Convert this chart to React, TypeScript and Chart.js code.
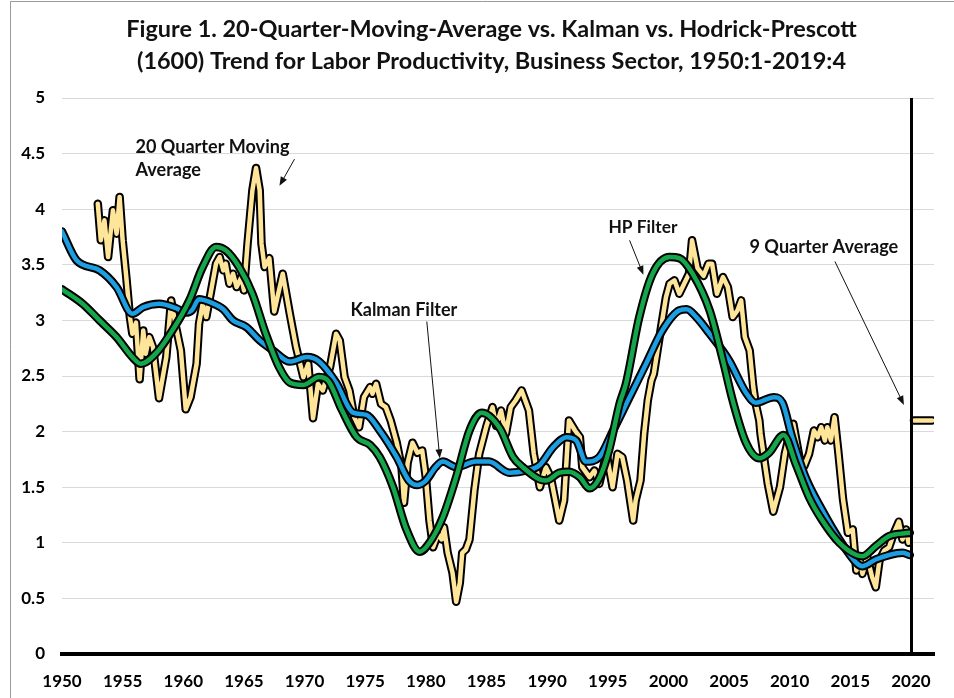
import React, { useEffect, useRef } from 'react';
import { Chart, registerables } from 'chart.js';

Chart.register(...registerables);

// ---------- Text ----------
const titleLines = [
  'Figure 1. 20-Quarter-Moving-Average vs. Kalman vs. Hodrick-Prescott',
  '(1600) Trend for Labor Productivity, Business Sector, 1950:1-2019:4',
];
const maLabel = ['20 Quarter Moving', 'Average'];
const kalmanLabel = ['Kalman Filter'];
const hpLabel = ['HP Filter'];
const nineQLabel = ['9 Quarter Average'];

// ---------- Axes ----------
const xTickYears = [1950, 1955, 1960, 1965, 1970, 1975, 1980, 1985, 1990, 1995, 2000, 2005, 2010, 2015, 2020];
const yTickValues = [0, 0.5, 1, 1.5, 2, 2.5, 3, 3.5, 4, 4.5, 5];
const breakYear = 2020;

// ---------- 20 Quarter Moving Average ----------
const maYears = [
  1952.95, 1953.2, 1953.5, 1953.8, 1954.2, 1954.5, 1954.75, 1955.0, 1955.3, 1955.6, 1955.8, 1956.1, 1956.4, 1956.7,
  1956.9, 1957.2, 1957.5, 1958.0, 1958.6, 1959.0, 1959.4, 1959.8, 1960.2, 1960.6, 1961.1, 1961.3, 1961.6, 1961.9,
  1962.3, 1962.7, 1963.0, 1963.3, 1963.5, 1963.8, 1964.1, 1964.4, 1964.8, 1965.0, 1965.3, 1965.7, 1966.0, 1966.3,
  1966.45, 1966.7, 1967.1, 1967.5, 1968.2, 1968.8, 1969.3, 1969.9, 1970.3, 1970.7, 1971.1, 1971.5, 1972.1, 1972.6,
  1972.9, 1973.3, 1973.7, 1974.1, 1974.5, 1974.9, 1975.4, 1975.6, 1975.9, 1976.3, 1976.7, 1977.1, 1977.6, 1978.0,
  1978.2, 1978.5, 1978.9, 1979.3, 1979.7, 1980.0, 1980.3, 1980.6, 1981.0, 1981.3, 1981.5, 1981.8, 1982.2, 1982.5,
  1982.8, 1983.0, 1983.3, 1983.6, 1984.0, 1984.4, 1985.0, 1985.5, 1985.8, 1986.2, 1986.6, 1987.0, 1987.4, 1987.9,
  1988.3, 1988.5, 1988.9, 1989.4, 1989.9, 1990.3, 1991.0, 1991.4, 1991.8, 1992.3, 1992.7, 1992.9, 1993.5, 1993.9,
  1994.3, 1994.9, 1995.4, 1995.8, 1996.2, 1996.6, 1997.1, 1997.3, 1997.7, 1998.0, 1998.3, 1998.6, 1998.8, 1999.1,
  1999.4, 1999.8, 2000.1, 2000.5, 2000.9, 2001.3, 2001.7, 2001.95, 2002.4, 2002.9, 2003.3, 2003.6, 2004.0, 2004.5,
  2004.9, 2005.3, 2005.7, 2006.0, 2006.3, 2006.7, 2007.0, 2007.2, 2007.5, 2007.6, 2008.2, 2008.65, 2009.2, 2009.6,
  2010.0, 2010.3, 2010.8, 2011.2, 2011.6, 2012.0, 2012.3, 2012.6, 2012.9, 2013.1, 2013.4, 2013.7, 2014.0, 2014.4,
  2014.8, 2015.2, 2015.5, 2015.8, 2016.0, 2016.4, 2016.8, 2017.1, 2017.4, 2017.8, 2018.2, 2018.6, 2019.0, 2019.3,
  2019.6, 2019.8,
];
const maValues = [
  4.05, 3.72, 3.9, 3.57, 3.99, 3.78, 4.11, 3.72, 3.39, 3.03, 2.88, 2.98, 2.47, 2.91,
  2.7, 2.85, 2.76, 2.3, 2.67, 3.18, 2.94, 2.73, 2.2, 2.31, 2.61, 2.97, 3.15, 3.03,
  3.27, 3.51, 3.57, 3.45, 3.51, 3.33, 3.42, 3.3, 3.39, 3.27, 3.69, 4.17, 4.37, 4.17,
  3.69, 3.48, 3.56, 3.08, 3.42, 3.05, 2.76, 2.49, 2.61, 2.12, 2.43, 2.37, 2.58, 2.88,
  2.82, 2.49, 2.37, 2.13, 2.04, 2.31, 2.4, 2.34, 2.43, 2.25, 2.22, 2.1, 1.9, 1.68,
  1.36, 1.72, 1.9, 1.81, 1.83, 1.59, 1.2, 0.96, 1.08, 1.03, 1.14, 0.91, 0.73, 0.47,
  0.64, 0.91, 0.94, 1.03, 1.47, 1.8, 2.05, 2.22, 2.05, 2.19, 1.98, 2.22, 2.28, 2.37,
  2.25, 2.19, 1.8, 1.5, 1.68, 1.59, 1.2, 1.38, 2.1, 2.01, 1.95, 1.68, 1.59, 1.65,
  1.53, 1.8, 1.5, 1.8, 1.77, 1.56, 1.2, 1.38, 1.56, 1.98, 2.28, 2.46, 2.52, 2.73,
  2.94, 3.21, 3.33, 3.36, 3.24, 3.33, 3.42, 3.72, 3.47, 3.4, 3.51, 3.51, 3.24, 3.39,
  3.3, 3.03, 3.09, 3.18, 2.85, 2.73, 2.4, 2.25, 2.1, 1.98, 1.53, 1.28, 1.5, 1.8,
  1.98, 2.07, 1.77, 1.69, 1.8, 2.01, 1.95, 2.04, 1.92, 2.04, 1.92, 2.13, 1.83, 1.39,
  1.09, 1.12, 0.75, 0.84, 0.72, 0.87, 0.69, 0.6, 0.84, 0.93, 0.96, 1.09, 1.19, 1.03,
  1.12, 1.0,
];

// ---------- HP Filter ----------
const hpYears = [
  1950, 1951.7, 1953.1, 1954.5, 1955.8, 1956.5, 1957.8, 1959.1, 1960.5, 1961.6, 1962.7, 1963.5, 1964.6, 1965.7,
  1966.8, 1967.9, 1968.8, 1969.9, 1971.2, 1972.0, 1973.1, 1974.3, 1975.4, 1976.2, 1977.3, 1978.4, 1979.5, 1980.3,
  1981.4, 1982.5, 1983.6, 1984.6, 1986.1, 1987.2, 1988.0, 1989.4, 1989.9, 1991.0, 1991.8, 1992.7, 1993.5, 1994.3,
  1995.1, 1996.0, 1996.5, 1997.6, 1998.7, 2000.1, 2000.9, 2002.0, 2003.4, 2004.5, 2005.3, 2006.4, 2007.5, 2008.3,
  2009.5, 2010.5, 2011.6, 2012.7, 2014.1, 2015.5, 2016.0, 2017.1, 2018.2, 2019.9,
];
const hpValues = [
  3.28, 3.15, 3.0, 2.85, 2.67, 2.61, 2.71, 2.91, 3.18, 3.48, 3.66, 3.63, 3.48, 3.24,
  2.88, 2.58, 2.44, 2.42, 2.49, 2.45, 2.19, 1.95, 1.88, 1.77, 1.5, 1.12, 0.92, 1.0,
  1.23, 1.59, 2.01, 2.17, 2.03, 1.77, 1.68, 1.57, 1.56, 1.63, 1.64, 1.59, 1.49, 1.58,
  1.83, 2.26, 2.43, 3.03, 3.42, 3.57, 3.56, 3.42, 3.09, 2.64, 2.28, 1.9, 1.76, 1.81,
  1.97, 1.71, 1.41, 1.2, 1.0, 0.89, 0.88, 0.97, 1.06, 1.09,
];

// ---------- Kalman Filter ----------
const kfYears = [
  1950, 1951.2, 1953.1, 1954.5, 1955.8, 1956.7, 1958.0, 1959.4, 1960.2, 1960.7, 1961.3, 1962.3, 1963.3, 1964.1,
  1965.2, 1966.3, 1967.4, 1968.8, 1970.2, 1971.2, 1972.6, 1974.0, 1975.1, 1976.2, 1977.6, 1978.6, 1979.3, 1980.0,
  1980.8, 1981.4, 1982.5, 1984.1, 1985.2, 1986.9, 1988.3, 1989.4, 1990.5, 1991.6, 1992.4, 1993.2, 1994.3, 1995.4,
  1996.8, 1998.2, 1999.5, 2000.9, 2001.5, 2002.3, 2003.4, 2005.0, 2006.4, 2007.2, 2008.7, 2009.4, 2010.2, 2011.3,
  2012.7, 2014.1, 2015.5, 2016.0, 2017.1, 2018.2, 2019.3, 2019.9,
];
const kfValues = [
  3.8, 3.54, 3.45, 3.3, 3.06, 3.12, 3.15, 3.11, 3.07, 3.09, 3.19, 3.16, 3.1, 3.0,
  2.94, 2.82, 2.73, 2.63, 2.67, 2.63, 2.44, 2.17, 2.15, 2.01, 1.77, 1.56, 1.52, 1.56,
  1.68, 1.73, 1.68, 1.73, 1.73, 1.63, 1.65, 1.7, 1.86, 1.95, 1.92, 1.73, 1.77, 2.0,
  2.31, 2.62, 2.91, 3.09, 3.1, 3.03, 2.88, 2.64, 2.35, 2.26, 2.31, 2.26, 1.95, 1.59,
  1.29, 1.03, 0.82, 0.79, 0.85, 0.89, 0.91, 0.89,
];

// ---------- 9 Quarter Average ----------
const nineQYears = [2020.25, 2021.75];
const nineQValues = [2.1, 2.1];

const pts = (xs: number[], ys: number[]) => xs.map((x, i) => ({ x, y: ys[i] }));

const FONT = 'Lato';
const YELLOW = '#FFE599';
const GREEN = '#14A64A';
const BLUE = '#1C9FE2';

function fitSize(ctx: CanvasRenderingContext2D, text: string, target: number) {
  ctx.font = `bold 100px ${FONT}`;
  return (100 * target) / ctx.measureText(text).width;
}

const annotations = [
  { lines: maLabel, x: 1956.06, y: 4.56, align: 'left', target: 154, spacing: 23, arrow: [1969.17, 4.45, 1967.93, 4.21] },
  { lines: kalmanLabel, x: 1978.19, y: 3.09, align: 'center', target: 107, spacing: 23, arrow: [1980.08, 2.99, 1981.15, 1.76] },
  { lines: hpLabel, x: 1997.9, y: 3.84, align: 'center', target: 69, spacing: 23, arrow: [1996.8, 3.72, 1997.94, 3.41] },
  { lines: nineQLabel, x: 2012.82, y: 3.66, align: 'center', target: 149, spacing: 23, arrow: [2013.73, 3.53, 2019.42, 2.24] },
];

const decorPlugin = {
  id: 'decor',
  beforeDraw(chart: any) {
    const ctx = chart.ctx as CanvasRenderingContext2D;
    ctx.save();
    ctx.fillStyle = '#fff';
    ctx.fillRect(0, 0, chart.width, chart.height);
    ctx.strokeStyle = '#9a9a9a';
    ctx.lineWidth = 1;
    ctx.beginPath();
    ctx.moveTo(10.5, chart.height);
    ctx.lineTo(10.5, 1.5);
    ctx.lineTo(chart.width, 1.5);
    ctx.stroke();
    // title
    const size = fitSize(ctx, titleLines[0], 731);
    ctx.font = `bold ${size}px ${FONT}`;
    ctx.fillStyle = '#111';
    ctx.textAlign = 'center';
    ctx.textBaseline = 'middle';
    ctx.fillText(titleLines[0], 491.5, 29);
    ctx.fillText(titleLines[1], 491.5, 61);
    ctx.restore();
  },
  afterDatasetsDraw(chart: any) {
    const ctx = chart.ctx as CanvasRenderingContext2D;
    const xs = chart.scales.x;
    const ys = chart.scales.y;
    ctx.save();
    // break line
    const bx = Math.round(xs.getPixelForValue(breakYear)) + 0.5;
    ctx.strokeStyle = '#000';
    ctx.lineWidth = 3;
    ctx.beginPath();
    ctx.moveTo(bx, chart.chartArea.top);
    ctx.lineTo(bx, chart.chartArea.bottom);
    ctx.stroke();
    // annotations
    for (const a of annotations) {
      const size = fitSize(ctx, a.lines[0], a.target);
      ctx.font = `bold ${size}px ${FONT}`;
      ctx.fillStyle = '#111';
      ctx.textAlign = a.align as CanvasTextAlign;
      ctx.textBaseline = 'middle';
      const px = xs.getPixelForValue(a.x);
      const py = ys.getPixelForValue(a.y);
      a.lines.forEach((ln, i) => ctx.fillText(ln, px, py + i * a.spacing));
      const [x1, y1, x2, y2] = a.arrow;
      const ax1 = xs.getPixelForValue(x1), ay1 = ys.getPixelForValue(y1);
      const ax2 = xs.getPixelForValue(x2), ay2 = ys.getPixelForValue(y2);
      const ang = Math.atan2(ay2 - ay1, ax2 - ax1);
      const hl = 9, hw = 3.5;
      ctx.strokeStyle = '#111';
      ctx.lineWidth = 1;
      ctx.beginPath();
      ctx.moveTo(ax1, ay1);
      ctx.lineTo(ax2 - Math.cos(ang) * hl * 0.8, ay2 - Math.sin(ang) * hl * 0.8);
      ctx.stroke();
      ctx.fillStyle = '#111';
      ctx.beginPath();
      ctx.moveTo(ax2, ay2);
      ctx.lineTo(ax2 - Math.cos(ang) * hl - Math.sin(ang) * hw, ay2 - Math.sin(ang) * hl + Math.cos(ang) * hw);
      ctx.lineTo(ax2 - Math.cos(ang) * hl + Math.sin(ang) * hw, ay2 - Math.sin(ang) * hl - Math.cos(ang) * hw);
      ctx.closePath();
      ctx.fill();
    }
    ctx.restore();
  },
};

function lineDs(label: string, data: any[], color: string, width: number, order: number, smooth: boolean) {
  return {
    label,
    data,
    borderColor: color,
    backgroundColor: color,
    borderWidth: width,
    pointRadius: 0,
    fill: false,
    order,
    borderJoinStyle: 'round',
    borderCapStyle: 'round',
    cubicInterpolationMode: smooth ? 'monotone' : 'default',
    tension: 0,
  };
}

export default function App() {
  const ref = useRef<HTMLCanvasElement | null>(null);
  useEffect(() => {
    if (!ref.current) return;
    const ma = pts(maYears, maValues);
    const hp = pts(hpYears, hpValues);
    const kf = pts(kfYears, kfValues);
    const nq = pts(nineQYears, nineQValues);
    const chart = new Chart(ref.current, {
      type: 'line',
      data: {
        datasets: [
          lineDs('HP Filter', hp, GREEN, 4.5, 0, true),
          lineDs('HP outline', hp, '#000', 8.5, 1, true),
          lineDs('Kalman Filter', kf, BLUE, 4.5, 2, true),
          lineDs('Kalman outline', kf, '#000', 8.5, 3, true),
          lineDs('20 Quarter Moving Average', ma, YELLOW, 4.5, 4, false),
          lineDs('MA outline', ma, '#000', 8.5, 5, false),
          lineDs('9 Quarter Average', nq, YELLOW, 4.5, 6, false),
          lineDs('9Q outline', nq, '#000', 8.5, 7, false),
        ] as any,
      },
      options: {
        animation: false,
        responsive: false,
        devicePixelRatio: 1,
        parsing: false as any,
        normalized: true,
        layout: { padding: { top: 98, right: 20, left: 0, bottom: 0 } },
        plugins: { legend: { display: false }, tooltip: { enabled: false }, title: { display: false } },
        scales: {
          x: {
            type: 'linear',
            min: 1950,
            max: 2021.9,
            afterBuildTicks: (s: any) => {
              s.ticks = xTickYears.map((v) => ({ value: v }));
            },
            afterFit: (s: any) => {
              s.height = 44;
            },
            grid: { display: false, drawTicks: false },
            border: { display: true, color: '#000', width: 4 },
            ticks: {
              autoSkip: false,
              maxRotation: 0,
              padding: 17,
              color: '#000',
              font: { family: FONT, weight: 'bold', size: 17 },
              callback: (v: any) => String(v),
            },
          },
          y: {
            type: 'linear',
            min: 0,
            max: 5,
            afterBuildTicks: (s: any) => {
              s.ticks = yTickValues.map((v) => ({ value: v }));
            },
            afterFit: (s: any) => {
              s.width = 62;
            },
            grid: { color: '#d9d9d9', lineWidth: 1, drawTicks: false },
            border: { display: false },
            ticks: {
              padding: 17,
              color: '#000',
              font: { family: FONT, weight: 'bold', size: 17 },
              callback: (v: any) => String(v),
            },
          },
        },
      } as any,
      plugins: [decorPlugin],
    });
    return () => chart.destroy();
  }, []);
  return (
    <div style={{ position: 'absolute', left: 0, top: 0, width: 954, height: 698 }}>
      <canvas ref={ref} width={954} height={698} style={{ width: 954, height: 698, display: 'block' }} />
    </div>
  );
}
